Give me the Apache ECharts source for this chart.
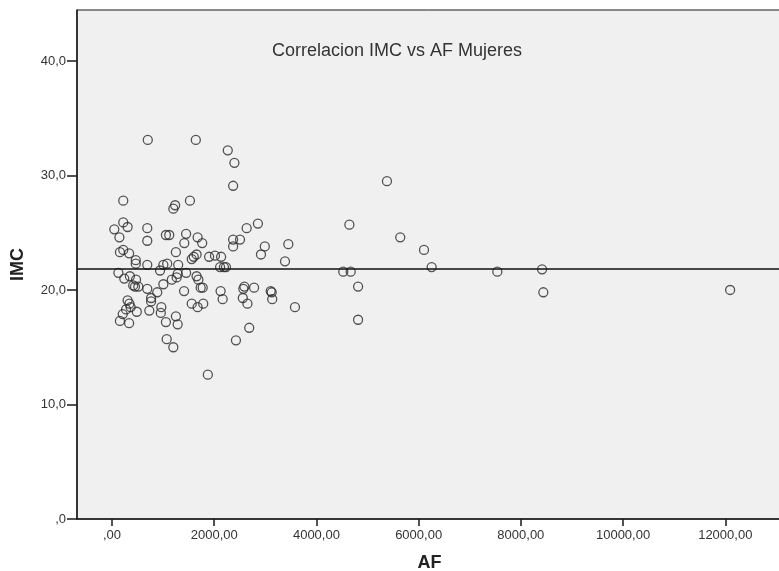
<!DOCTYPE html>
<html>
<head>
<meta charset="utf-8">
<title>Correlacion IMC vs AF Mujeres</title>
<script src="https://cdn.jsdelivr.net/npm/echarts@6/dist/echarts.min.js"></script>
<style>
  html, body { margin: 0; padding: 0; background: #ffffff; }
  #chart { width: 779px; height: 571px; }
</style>
</head>
<body>
<div id="chart"></div>
<script>
// Actividad física (AF) de cada mujer
const afValues = [
  700, 1640, 2265, 2395, 2370,
  220, 1235, 1200, 1525,
  220, 305, 45, 145, 690, 690, 1055, 1120, 1450, 1415, 1675, 1765,
  2635, 2855, 2370, 2505, 2370, 2990, 2915,
  220, 155, 335, 465, 465, 690, 1250, 1560, 1600, 1655, 1900, 2015, 2135,
  1005, 1080, 940, 1295, 2115, 2190, 2230,
  125, 240, 350, 470, 415, 450, 515, 690, 885, 1005, 1170, 1265, 1285, 1450,
  1655, 1690, 1735, 1775, 1410, 2125, 2165, 2590, 2570, 2780, 2560, 2650,
  3105, 3135, 3125, 765, 765, 305, 340, 365, 485, 275, 210, 155, 335, 730,
  965, 955, 1055, 1250, 1285, 1560, 1675, 1785, 2685,
  1070, 2425, 1200, 1875,
  3385, 3450, 3580, 4645, 4525, 4670, 4815, 4815, 5380, 5640, 6105, 6255,
  7540, 8415, 8440, 12095
];

// Índice de masa corporal (IMC) correspondiente
const imcValues = [
  33.1, 33.1, 32.2, 31.1, 29.1,
  27.8, 27.4, 27.1, 27.8,
  25.9, 25.5, 25.3, 24.6, 25.4, 24.3, 24.8, 24.8, 24.9, 24.1, 24.6, 24.1,
  25.4, 25.8, 24.4, 24.4, 23.8, 23.8, 23.1,
  23.5, 23.3, 23.2, 22.6, 22.3, 22.2, 23.3, 22.7, 22.9, 23.1, 22.9, 23.0, 22.9,
  22.2, 22.3, 21.7, 22.2, 22.0, 22.0, 22.0,
  21.5, 21.0, 21.2, 20.9, 20.4, 20.3, 20.3, 20.1, 19.8, 20.5, 20.9, 21.1, 21.4, 21.5,
  21.2, 20.9, 20.2, 20.2, 19.9, 19.9, 19.2, 20.3, 20.1, 20.2, 19.3, 18.8,
  19.9, 19.2, 19.8, 19.3, 19.0, 19.1, 18.8, 18.5, 18.1, 18.3, 17.9, 17.3, 17.1, 18.2,
  18.5, 18.0, 17.2, 17.7, 17.0, 18.8, 18.5, 18.8, 16.7,
  15.7, 15.6, 15.0, 12.6,
  22.5, 24.0, 18.5, 25.7, 21.6, 21.6, 20.3, 17.4, 29.5, 24.6, 23.5, 22.0,
  21.6, 21.8, 19.8, 20.0
];

// Media del IMC (línea de referencia)
const meanIMC = 21.88;

// Marcas y etiquetas de los ejes
const xTickValues = [0, 2000, 4000, 6000, 8000, 10000, 12000];
const xTickLabels = [',00', '2000,00', '4000,00', '6000,00', '8000,00', '10000,00', '12000,00'];
const yTickValues = [0, 10, 20, 30, 40];
const yTickLabels = [',0', '10,0', '20,0', '30,0', '40,0'];

const points = afValues.map((af, i) => [af, imcValues[i]]);

const axisColor = '#1a1a1a';
const labelColor = '#333333';
const fontFamily = '"Liberation Sans", Arial, sans-serif';

const chart = echarts.init(document.getElementById('chart'), null, { renderer: 'canvas' });

chart.setOption({
  backgroundColor: '#ffffff',
  animation: false,
  title: {
    text: 'Correlacion IMC vs AF Mujeres',
    left: 392,
    top: 37,
    textAlign: 'center',
    textStyle: {
      fontFamily: fontFamily,
      fontSize: 18,
      fontWeight: 'normal',
      color: '#333333'
    }
  },
  // the plot area runs past the right edge of the page, so no right border shows
  grid: {
    left: 77,
    top: 10,
    right: -3,
    bottom: 52,
    outerBoundsMode: 'none',
    containLabel: false,
    show: true,
    backgroundColor: '#f0f0f0',
    borderColor: axisColor,
    borderWidth: 1
  },
  xAxis: {
    type: 'value',
    min: -685,
    max: 13110,
    name: 'AF',
    nameLocation: 'middle',
    nameGap: 35,
    nameTextStyle: {
      fontFamily: fontFamily,
      fontSize: 18,
      fontWeight: 'bold',
      color: '#222222'
    },
    axisLine: { show: true, onZero: false, lineStyle: { color: axisColor, width: 1.5 } },
    axisTick: {
      show: true,
      inside: false,
      length: 7,
      customValues: xTickValues,
      lineStyle: { color: axisColor, width: 1.5 }
    },
    axisLabel: {
      customValues: xTickValues,
      margin: 10,
      fontFamily: fontFamily,
      fontSize: 13,
      color: labelColor,
      formatter: v => xTickLabels[xTickValues.indexOf(v)]
    },
    splitLine: { show: false }
  },
  yAxis: {
    type: 'value',
    min: 0,
    max: 44.45,
    name: 'IMC',
    nameLocation: 'middle',
    nameGap: 50,
    nameRotate: 90,
    nameTextStyle: {
      fontFamily: fontFamily,
      fontSize: 18,
      fontWeight: 'bold',
      color: '#222222'
    },
    axisLine: { show: true, onZero: false, lineStyle: { color: axisColor, width: 1.5 } },
    axisTick: {
      show: true,
      inside: false,
      length: 10,
      customValues: yTickValues,
      lineStyle: { color: axisColor, width: 1.5 }
    },
    axisLabel: {
      customValues: yTickValues,
      margin: 11,
      fontFamily: fontFamily,
      fontSize: 13,
      color: labelColor,
      formatter: v => yTickLabels[yTickValues.indexOf(v)]
    },
    splitLine: { show: false }
  },
  series: [
    {
      type: 'scatter',
      data: points,
      symbol: 'circle',
      symbolSize: 9,
      itemStyle: {
        color: 'rgba(0,0,0,0)',
        borderColor: '#2b2b2b',
        borderWidth: 1.3
      },
      emphasis: { disabled: true },
      markLine: {
        silent: true,
        symbol: ['none', 'none'],
        label: { show: false },
        lineStyle: { color: '#111111', type: 'solid', width: 1.5 },
        data: [{ yAxis: meanIMC }]
      }
    }
  ]
});
</script>
</body>
</html>
